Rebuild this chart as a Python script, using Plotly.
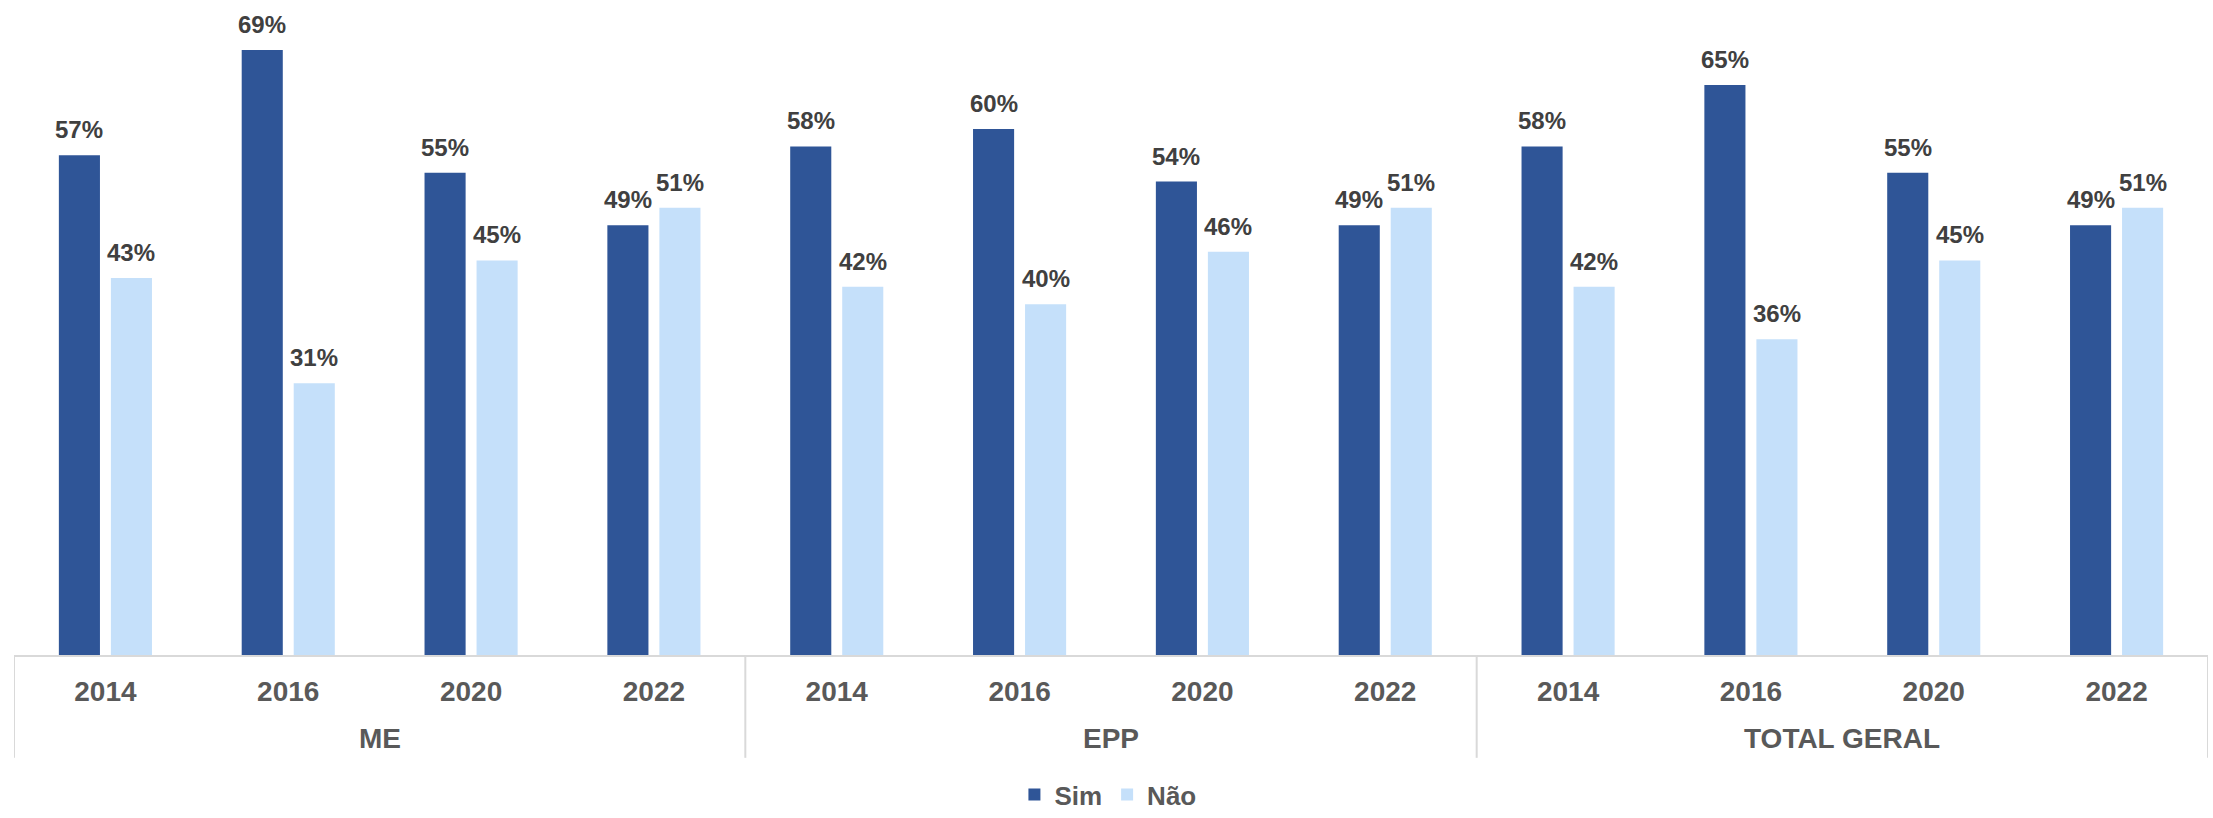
import plotly.graph_objects as go

# Survey shares (%) by company size and year
groups = ["ME", "EPP", "TOTAL GERAL"]
years = ["2014", "2016", "2020", "2022"]
sim = [57, 69, 55, 49,   58, 60, 54, 49,   58, 65, 55, 49]
nao = [43, 31, 45, 51,   42, 40, 46, 51,   42, 36, 45, 51]

SIM_COLOR = "#2F5597"
NAO_COLOR = "#C5E0FA"
FONT = "Arial, Liberation Sans, sans-serif"
LABEL_COLOR = "#404040"
AXIS_TEXT = "#595959"
GRID_GREY = "#D9D9D9"

cats = [f"{g} {y}" for g in groups for y in years]
tick_text = [y for g in groups for y in years]

fig = go.Figure()
fig.add_trace(go.Bar(name="Sim", x=cats, y=sim, marker_color=SIM_COLOR,
                     marker_line_width=0))
fig.add_trace(go.Bar(name="Não", x=cats, y=nao, marker_color=NAO_COLOR,
                     marker_line_width=0))

bargap = 0.431
bargroupgap = 0.21
half_slot = (1 - bargap) / 4  # centre offset of each bar from its category

annotations = []
for i, (s, n) in enumerate(zip(sim, nao)):
    for val, dx in ((s, -half_slot), (n, half_slot)):
        annotations.append(dict(
            x=i + dx, y=val, xref="x", yref="y", text=f"{val}%",
            showarrow=False, yanchor="bottom", yshift=10,
            font=dict(family=FONT, size=24, color=LABEL_COLOR, weight="bold"),
        ))

# group captions under the year labels
for gi, g in enumerate(groups):
    annotations.append(dict(
        x=gi * 4 + 1.5, y=-0.127, xref="x", yref="paper", text=g,
        showarrow=False, yanchor="middle",
        font=dict(family=FONT, size=28, color=AXIS_TEXT, weight="bold"),
    ))

# vertical dividers between groups
shapes = []
for xb in (-0.5, 3.5, 7.5, 11.5):
    shapes.append(dict(type="line", xref="x", yref="paper",
                       x0=xb, x1=xb, y0=0, y1=-0.157,
                       line=dict(color=GRID_GREY, width=2)))

fig.update_layout(
    width=2213, height=818,
    margin=dict(l=14, r=5, t=0, b=163, autoexpand=False),
    paper_bgcolor="white", plot_bgcolor="white",
    barmode="group", bargap=bargap, bargroupgap=bargroupgap,
    showlegend=True,
    legend=dict(orientation="h", x=0.4986, xanchor="center",
                y=-0.2489, yanchor="bottom",
                font=dict(family=FONT, size=26, color=AXIS_TEXT, weight="bold"),
                itemwidth=30, traceorder="normal"),
    xaxis=dict(type="category", categoryorder="array", categoryarray=cats,
               range=[-0.5, 11.5], tickmode="array", tickvals=cats,
               ticktext=tick_text, ticks="", showgrid=False,
               showline=True, linecolor=GRID_GREY, linewidth=2,
               ticklabelstandoff=10,
               tickfont=dict(family=FONT, size=28, color=AXIS_TEXT, weight="bold")),
    yaxis=dict(range=[0, 74.7], visible=False, showgrid=False, zeroline=False),
    annotations=annotations,
    shapes=shapes,
)

fig.write_html("out.html")
